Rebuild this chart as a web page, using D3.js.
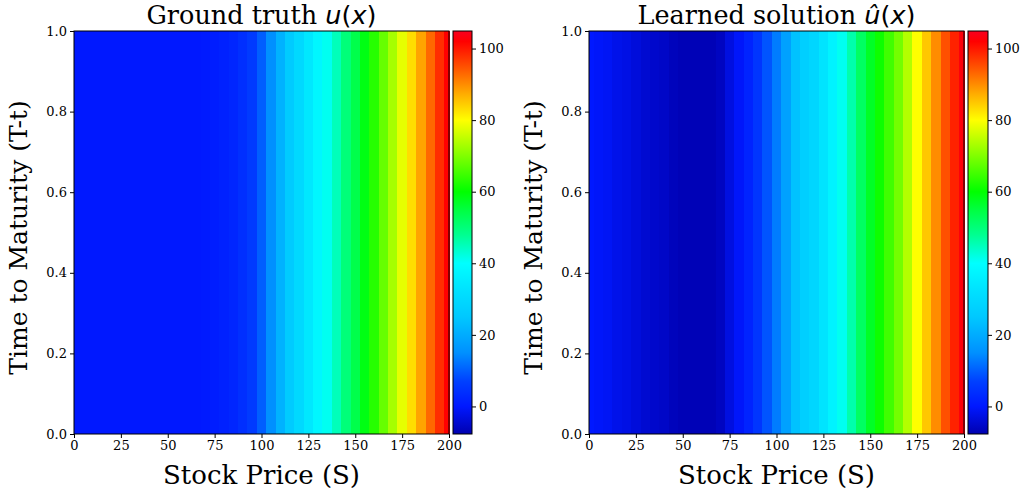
<!DOCTYPE html>
<html><head><meta charset="utf-8">
<script src="https://cdn.jsdelivr.net/npm/d3@7"></script>
<style>
body{margin:0;background:#fff;}
svg{display:block;}
text{font-family:"DejaVu Serif",serif;fill:#000;}
</style></head>
<body><svg id="c" width="1026" height="492"></svg>
<script>
// ---- data ----
const stockPrices = [0,5,10,15,20,25,30,35,40,45,50,55,60,65,70,75,80,85,90,95,100,105,110,115,120,125,130,135,140,145,150,155,160,165,170,175,180,185,190,195,200];
const groundTruth = [0,0,0,0,0,0,0,0,0,0,0,0,0,0,0.3,0.8,1.5,2.5,4,6,10,15,21,26,30,34,38,41,45,50,54,58.5,63,68,73,78,83,88,93,98,102];
const learned = [0,-0.5,-1,-2,-2.5,-3.5,-4.5,-5,-5.5,-6.5,-7,-7,-7,-7,-6,-3,-0.5,2,5,9,13,18,24,27,29,33,37,41,46,52,57,61,65,69,74,80,85,90,95,99,103];
const xTicks = [0,25,50,75,100,125,150,175,200];
const yTicks = [0.0,0.2,0.4,0.6,0.8,1.0];
const cbarTicks = [0,20,40,60,80,100];
const colorDomain = [-7.7,104.9];
const cmapValues = [-7.7,0,7,15,25,32,40,48,55,60,70,80,87,95,102,104.9];
const cmapColors = ["#0000b0","#0018ff","#0040ff","#0090ff","#00c8ff","#00e0ff","#00ffff","#00ff90","#00ff40","#00ff00","#80ff00","#ffff00","#ffb000","#ff5000","#ff0000","#f80020"];
const panels = [
  {title:"Ground truth ", hat:false, values:groundTruth, left:74, right:449, cbL:453, cbR:472},
  {title:"Learned solution ", hat:true, values:learned, left:589, right:964, cbL:968, cbR:988}
];
const plotTop = 31, plotBottom = 434;

const svg = d3.select("#c");
const color = d3.scaleLinear().domain(cmapValues).range(cmapColors).interpolate(d3.interpolateRgb).clamp(true);

const defs = svg.append("defs");
const grad = defs.append("linearGradient").attr("id","cbg").attr("x1",0).attr("x2",0).attr("y1",1).attr("y2",0);
cmapValues.forEach((v,i)=>{
  grad.append("stop").attr("offset",((v-colorDomain[0])/(colorDomain[1]-colorDomain[0])*100)+"%").attr("stop-color",cmapColors[i]);
});

panels.forEach(p=>{
  const x = d3.scaleLinear().domain([0,200]).range([p.left,p.right]);
  const y = d3.scaleLinear().domain([0,1]).range([plotBottom,plotTop]);
  const g = svg.append("g");
  const step = stockPrices[1]-stockPrices[0];
  g.selectAll("rect.cell").data(stockPrices).join("rect")
    .attr("class","cell")
    .attr("x",d=>x(Math.max(0,d-step/2)))
    .attr("width",d=>x(Math.min(200,d+step/2))-x(Math.max(0,d-step/2))+0.6)
    .attr("y",plotTop).attr("height",plotBottom-plotTop)
    .attr("fill",(d,i)=>color(p.values[i]))
    .attr("shape-rendering","crispEdges");
  g.append("rect").attr("x",p.left).attr("y",plotTop).attr("width",p.right-p.left).attr("height",plotBottom-plotTop)
    .attr("fill","none").attr("stroke","#000").attr("stroke-width",1);
  const xa = g.append("g").attr("transform",`translate(0,${plotBottom})`)
    .call(d3.axisBottom(x).tickValues(xTicks).tickSize(4).tickPadding(3).tickFormat(d3.format("d")));
  const ya = g.append("g").attr("transform",`translate(${p.left},0)`)
    .call(d3.axisLeft(y).tickValues(yTicks).tickSize(4).tickPadding(3).tickFormat(d3.format(".1f")));
  [xa,ya].forEach(a=>{
    a.select(".domain").remove();
    a.selectAll("text").attr("font-family","DejaVu Serif").attr("font-size",13).attr("fill","#000");
    a.selectAll("line").attr("stroke","#000");
  });
  g.append("text").attr("x",(p.left+p.right)/2).attr("y",484).attr("text-anchor","middle")
    .attr("font-size",26).text("Stock Price (S)");
  g.append("text").attr("transform",`translate(${p.left-47},${(plotTop+plotBottom)/2 + 5}) rotate(-90)`)
    .attr("text-anchor","middle").attr("font-size",25).text("Time to Maturity (T-t)");
  const t = g.append("text").attr("x",(p.left+p.right)/2).attr("y",24).attr("text-anchor","middle").attr("font-size",25.5);
  t.append("tspan").text(p.title);
  t.append("tspan").attr("font-family","DejaVu Sans").attr("font-style","italic").text(p.hat?"\u00fb":"u");
  t.append("tspan").attr("font-family","DejaVu Sans").text("(");
  t.append("tspan").attr("font-family","DejaVu Sans").attr("font-style","italic").text("x");
  t.append("tspan").attr("font-family","DejaVu Sans").text(")");
  const cy = d3.scaleLinear().domain(colorDomain).range([plotBottom,plotTop]);
  g.append("rect").attr("x",p.cbL).attr("y",plotTop).attr("width",p.cbR-p.cbL).attr("height",plotBottom-plotTop)
    .attr("fill","url(#cbg)").attr("stroke","#000").attr("stroke-width",1);
  const ca = g.append("g").attr("transform",`translate(${p.cbR},0)`)
    .call(d3.axisRight(cy).tickValues(cbarTicks).tickSize(4).tickPadding(3).tickFormat(d3.format("d")));
  ca.select(".domain").remove();
  ca.selectAll("text").attr("font-family","DejaVu Serif").attr("font-size",13).attr("fill","#000");
  ca.selectAll("line").attr("stroke","#000");
});
</script></body></html>
